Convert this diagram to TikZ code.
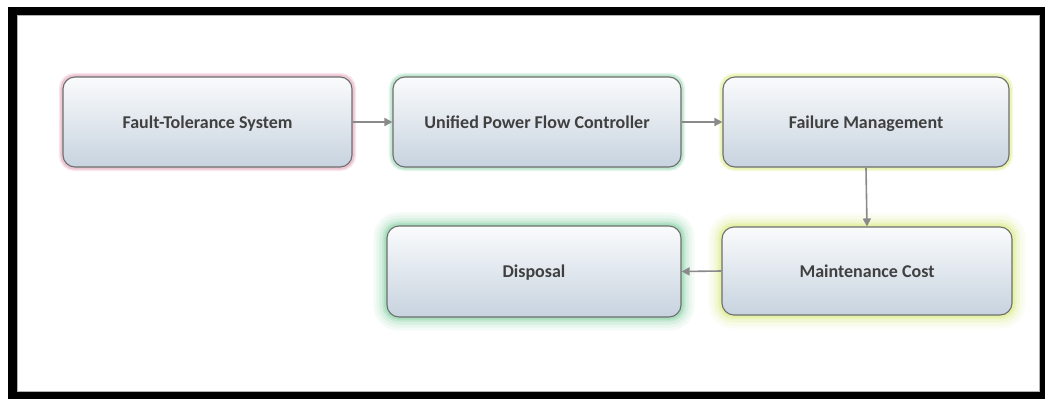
\documentclass[tikz,border=0pt]{standalone}
\usepackage{fontspec}
\setmainfont{Carlito}
\usetikzlibrary{arrows.meta,backgrounds}
\definecolor{boxtop}{HTML}{FAFBFC}
\definecolor{boxbot}{HTML}{C7D3DF}
\definecolor{edge}{HTML}{6E6E6E}
\definecolor{txt}{HTML}{404040}
\definecolor{arr}{HTML}{8A8A8A}
\definecolor{gpink}{HTML}{D98AA6}
\definecolor{ggreen}{HTML}{7FCFA0}
\definecolor{gyellow}{HTML}{D8EC7A}
\tikzset{
  stepbox/.style={rounded corners=12pt, draw=edge, line width=1.1pt,
    top color=boxtop, bottom color=boxbot, minimum height=90pt,
    font=\fontsize{18}{20}\selectfont\bfseries, text=txt, inner sep=0pt,
    text depth=0pt},
  conn/.style={draw=arr, line width=1.6pt, -{Triangle[length=8pt,width=8pt]}},
}
\newcommand{\glowbox}[3]{% name, color, layers
  \foreach \w/\o in {#3} {
    \draw[#2, line width=\w pt, opacity=\o, rounded corners=12pt]
      (#1.south west) rectangle (#1.north east);
  }
}
\begin{document}
\begin{tikzpicture}[x=1pt,y=-1pt]
\useasboundingbox (0,0) rectangle (1045,399);
% nodes
\node[stepbox, minimum width=289pt] (fts) at (207.5,122) {Fault-Tolerance System};
\node[stepbox, minimum width=288pt] (upfc) at (537,122) {Unified Power Flow Controller};
\node[stepbox, minimum width=286pt] (fm) at (866,122) {Failure Management};
\node[stepbox, minimum width=290pt, minimum height=88pt] (mc) at (867,271) {Maintenance Cost};
\node[stepbox, minimum width=294pt, minimum height=91pt] (dis) at (534,271.5) {Disposal};
% connectors
\draw[conn] (fts.east) -- (upfc.west);
\draw[conn] (upfc.east) -- (fm.west);
\draw[conn] (fm.south) -- (mc.north);
\draw[conn] (mc.west) -- (dis.east);
\begin{scope}[on background layer]
\fill[white] (0,0) rectangle (1045,399);
\glowbox{fts}{gpink}{7/0.2,4/0.35}
\glowbox{upfc}{ggreen}{7/0.2,4/0.35}
\glowbox{fm}{gyellow}{7/0.25,4/0.4}
\glowbox{mc}{gyellow}{26/0.08,20/0.1,14/0.15,8/0.25,4/0.35}
\glowbox{dis}{ggreen}{26/0.08,20/0.1,14/0.15,8/0.25,4/0.35}
\end{scope}
% frame
\fill[black, even odd rule] (8,7) rectangle (1045,399) (17,15) rectangle (1040,392);
\draw[gray!60, line width=0.8pt] (17.4,15.4) rectangle (1039.6,391.6);
\end{tikzpicture}
\end{document}
